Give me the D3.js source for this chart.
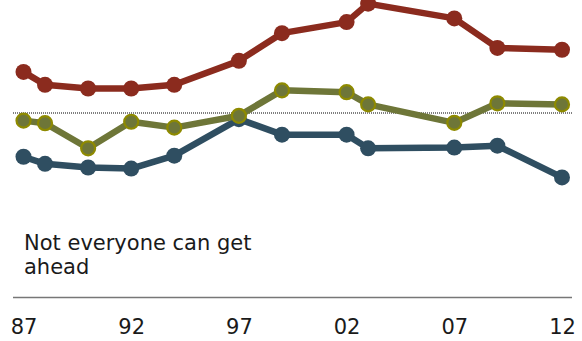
<!DOCTYPE html>
<html>
<head>
<meta charset="utf-8">
<script src="https://cdnjs.cloudflare.com/ajax/libs/d3/7.8.5/d3.min.js"></script>
<style>
  body { margin: 0; background: #fff; }
  text { font-family: "DejaVu Sans", Verdana, sans-serif; fill: #1a1a1a; }
</style>
</head>
<body>
<div id="chart"></div>
<script>
// survey years and the three series (percent)
var years = [1987, 1988, 1990, 1992, 1994, 1997, 1999, 2002, 2003, 2007, 2009, 2012];
var redValues = [61, 57.5, 56.5, 56.5, 57.5, 64, 71.5, 74.5, 79.5, 75.5, 67.5, 67];
var oliveValues = [47.8, 47.1, 40.3, 47.5, 45.9, 49.1, 56, 55.5, 52.2, 47.2, 52.5, 52.2];
var blueValues = [38, 36.1, 35.1, 34.8, 38.3, 48.2, 44, 44, 40.3, 40.5, 41, 32.4];
var tickYears = [1987, 1992, 1997, 2002, 2007, 2012];
var tickLabels = ["87", "92", "97", "02", "07", "12"];
var referenceValue = 50;
var labelLines = ["Not everyone can get", "ahead"];

var chart_width = 582,
    chart_height = 341;

var svg = d3.select("#chart").append("svg")
    .attr("width", chart_width)
    .attr("height", chart_height);

var x = d3.scaleLinear()
    .domain([1987, 2012])
    .range([23.5, 562]);

var y = d3.scaleLinear()
    .domain([0, 100])
    .range([297, -72]);

// dotted reference line
svg.append("line")
    .attr("x1", 13)
    .attr("x2", 572)
    .attr("y1", y(referenceValue) + 0.5)
    .attr("y2", y(referenceValue) + 0.5)
    .style("stroke", "#555")
    .style("stroke-width", 1.5)
    .style("stroke-dasharray", "1,1");

// baseline
svg.append("line")
    .attr("x1", 13)
    .attr("x2", 572)
    .attr("y1", 297.5)
    .attr("y2", 297.5)
    .style("stroke", "#777")
    .style("stroke-width", 1.5);

// x axis labels, no ticks
var xAxis = d3.axisBottom(x)
    .tickValues(tickYears)
    .tickSize(0)
    .tickPadding(0)
    .tickFormat(function(d, i) { return tickLabels[i]; });

var axisG = svg.append("g")
    .attr("transform", "translate(0,318)")
    .call(xAxis);
axisG.select(".domain").remove();
axisG.selectAll("text")
    .attr("dy", "0.74em")
    .style("font-size", "21px")
    .style("fill", "#1a1a1a")
    .style("font-family", "'DejaVu Sans', Verdana, sans-serif");

var line = d3.line()
    .x(function(d) { return x(d.year); })
    .y(function(d) { return y(d.value); });

var series = [
    {name: "red", values: redValues, color: "#8b2b1e", fill: "#8b2b1e", ring: "#8b2b1e"},
    {name: "blue", values: blueValues, color: "#2f4e61", fill: "#2f4e61", ring: "#2f4e61"},
    {name: "olive", values: oliveValues, color: "#6e7638", fill: "#6e7638", ring: "#8e8a00"}
];

series.forEach(function(s) {
    var pts = years.map(function(yr, i) { return {year: yr, value: s.values[i]}; });

    svg.append("path")
        .datum(pts)
        .attr("d", line)
        .style("fill", "none")
        .style("stroke", s.color)
        .style("stroke-width", 6.5)
        .style("stroke-linejoin", "round");

    svg.append("g")
        .selectAll("circle")
        .data(pts)
        .enter().append("circle")
        .attr("cx", function(d) { return x(d.year); })
        .attr("cy", function(d) { return y(d.value); })
        .attr("r", s.name == "olive" ? 7 : 8)
        .style("fill", s.fill)
        .style("stroke", s.ring)
        .style("stroke-width", s.name == "olive" ? 2.2 : 0);
});

// label text
svg.append("text")
    .attr("x", 24)
    .attr("y", 250)
    .style("font-size", "21px")
    .selectAll("tspan")
    .data(labelLines)
    .enter().append("tspan")
    .attr("x", 24)
    .attr("dy", function(d, i) { return i ? 24 : 0; })
    .text(function(d) { return d; });
</script>
</body>
</html>
